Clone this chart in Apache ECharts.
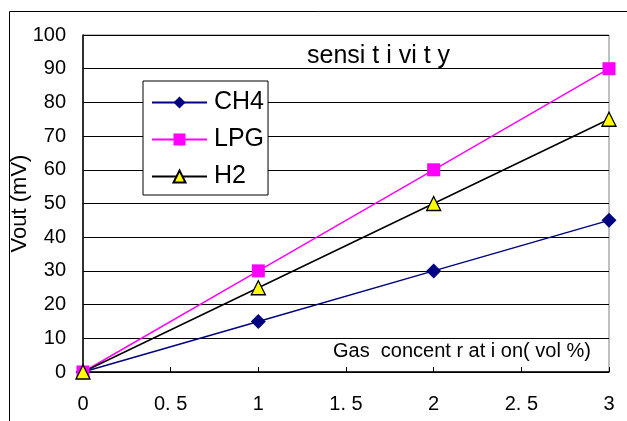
<!DOCTYPE html>
<html>
<head>
<meta charset="utf-8">
<script src="https://cdn.jsdelivr.net/npm/echarts@6/dist/echarts.min.js"></script>
<style>
html,body{margin:0;padding:0;background:#fff;}
#c{width:627px;height:421px;}
</style>
</head>
<body>
<div id="c"></div>
<script>
var concentrations = [0, 1, 2, 3];
var ch4 = [0, 15, 30, 45];
var lpg = [0, 30, 60, 90];
var h2 = [0, 25, 50, 75];
var xTickLabels = ['0', '0. 5', '1', '1. 5', '2', '2. 5', '3'];
var yTickLabels = ['0','10','20','30','40','50','60','70','80','90','100'];
var titleText = 'sensi t i vi t y';
var xNameText = 'Gas  concent r at i on( vol %)';
var yNameText = 'Vout (mV)';

var FONT = 'Arial, "Liberation Sans", sans-serif';
function pairs(ys){ return concentrations.map(function(x,i){ return [x, ys[i]]; }); }

var chart = echarts.init(document.getElementById('c'), null, {renderer:'canvas'});
chart.setOption({
  animation: false,
  backgroundColor: '#fff',
  textStyle: {fontFamily: FONT},
  grid: {left: 83, right: 18, top: 35, bottom: 49, containLabel: false, outerBoundsMode: 'none',
    show: true, borderColor: '#808080', borderWidth: 1, backgroundColor: '#fff'},
  legend: {
    orient: 'vertical', left: 143, top: 81,
    itemWidth: 55, itemHeight: 15, itemGap: 12,
    padding: [9, 4, 6, 8],
    backgroundColor: '#fff', borderColor: '#000', borderWidth: 1,
    textStyle: {fontSize: 25, color: '#000', fontFamily: FONT, padding: [0,0,0,2], width: 44, overflow: 'none'},
    data: ['CH4', 'LPG', 'H2']
  },
  xAxis: {
    type: 'value', min: 0, max: 3, interval: 0.5,
    axisLine: {lineStyle: {color: '#000', width: 1.5}},
    axisTick: {inside: true, length: 5, lineStyle: {color: '#000'}},
    splitLine: {show: false},
    axisLabel: {fontSize: 20, color: '#000', margin: 22, fontFamily: FONT,
      formatter: function(v){ return xTickLabels[Math.round(v/0.5)]; }}
  },
  yAxis: {
    type: 'value', min: 0, max: 100, interval: 10,
    name: yNameText, nameLocation: 'middle', nameGap: 52, nameRotate: 90, nameMoveOverlap: false,
    nameTextStyle: {fontSize: 22, color: '#000', fontFamily: FONT},
    axisLine: {show: true, lineStyle: {color: '#000', width: 1.5}},
    axisTick: {show: true, inside: true, length: 5, lineStyle: {color: '#000'}},
    splitLine: {show: true, lineStyle: {color: '#000', width: 1}},
    axisLabel: {fontSize: 20, color: '#000', margin: 17, fontFamily: FONT,
      formatter: function(v){ return yTickLabels[Math.round(v/10)]; }}
  },
  graphic: [
    {type: 'rect', left: 7, top: 9, shape: {width: 640, height: 440}, style: {fill: 'none', stroke: '#000', lineWidth: 1}, z: -1, silent: true},
    {type: 'text', left: 307, top: 44, style: {text: titleText, fontSize: 25, fill: '#000', fontFamily: FONT}, z: 10},
    {type: 'text', left: 333, top: 341, style: {text: xNameText, fontSize: 20, fill: '#000', fontFamily: FONT}, z: 10}
  ],
  series: [
    {name: 'CH4', type: 'line', data: pairs(ch4), symbol: 'diamond', symbolSize: 15,
      lineStyle: {color: '#000080', width: 1.5}, itemStyle: {color: '#000080'}},
    {name: 'LPG', type: 'line', data: pairs(lpg), symbol: 'rect', symbolSize: 13,
      lineStyle: {color: '#ff00ff', width: 1.5}, itemStyle: {color: '#ff00ff'}},
    {name: 'H2', type: 'line', data: pairs(h2), symbol: 'triangle', symbolSize: 14,
      lineStyle: {color: '#000', width: 1.5}, itemStyle: {color: '#ffff00', borderColor: '#000', borderWidth: 1.3}}
  ]
});
</script>
</body>
</html>
